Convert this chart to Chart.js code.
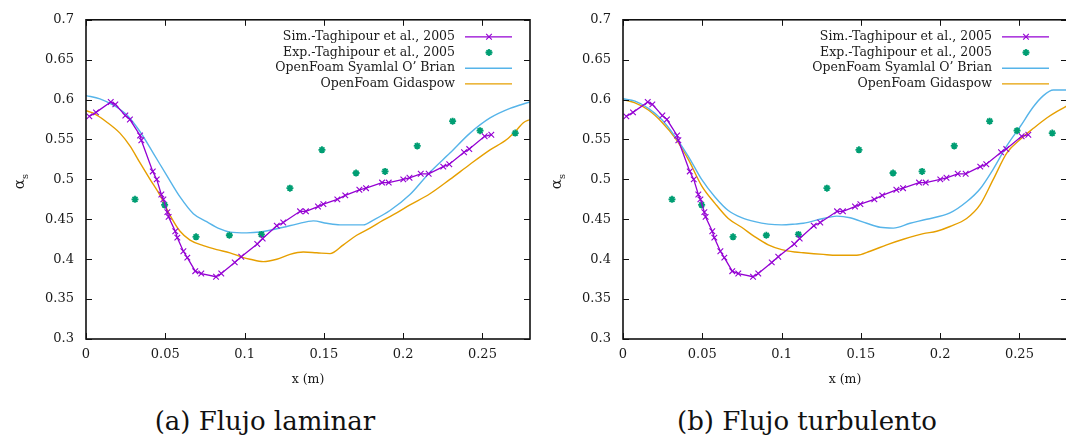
<!DOCTYPE html>
<html lang="es">
<head>
<meta charset="UTF-8">
<title>Fracción de sólidos</title>
<script src="https://cdn.jsdelivr.net/npm/chart.js"></script>
<style>
    html, body { margin: 0; padding: 0; background: #fff; overflow: hidden; }
    body { width: 1066px; height: 439px; position: relative; }
    canvas { position: absolute; top: 0; }
    #chartA { left: 0; }
    #chartB { left: 537px; }
    .caption { position: absolute; top: 406px; font-family: "DejaVu Serif", serif; font-size: 26px; color: #111; transform: translateX(-50%); white-space: nowrap; }
</style>
</head>
<body>
<canvas id="chartA" width="540" height="395"></canvas>
<canvas id="chartB" width="540" height="395"></canvas>
<div class="caption" style="left:265px">(a) Flujo laminar</div>
<div class="caption" style="left:807px">(b) Flujo turbulento</div>

<script>
// axis ticks
const xTicks = [0, 0.05, 0.1, 0.15, 0.2, 0.25];
const xTickLabels = ['0', '0.05', '0.1', '0.15', '0.2', '0.25'];
const yTicks = [0.3, 0.35, 0.4, 0.45, 0.5, 0.55, 0.6, 0.65, 0.7];
const yTickLabels = ['0.3', '0.35', '0.4', '0.45', '0.5', '0.55', '0.6', '0.65', '0.7'];

const seriesNames = ['Sim.-Taghipour et al., 2005', 'Exp.-Taghipour et al., 2005', 'OpenFoam Syamlal O\u2019 Brian', 'OpenFoam Gidaspow'];

// reference data (same in both panels)
const simTaghipour = [[0.0021,0.579],[0.0063,0.584],[0.0156,0.597],[0.0185,0.594],[0.0248,0.580],[0.0277,0.575],
    [0.0341,0.555],[0.0349,0.549],[0.0421,0.510],[0.0446,0.500],[0.0475,0.481],[0.0488,0.475],[0.0513,0.459],
    [0.0521,0.453],[0.0563,0.435],[0.0576,0.427],[0.0614,0.410],[0.0639,0.402],[0.0689,0.385],[0.0727,0.382],
    [0.0820,0.378],[0.0853,0.382],[0.0938,0.396],[0.0979,0.403],[0.1080,0.419],[0.1114,0.426],[0.1203,0.442],
    [0.1244,0.446],[0.1350,0.460],[0.1387,0.460],[0.1463,0.466],[0.1497,0.469],[0.1585,0.475],[0.1635,0.480],
    [0.1724,0.487],[0.1766,0.489],[0.1867,0.496],[0.1909,0.496],[0.2001,0.500],[0.2040,0.502],[0.2111,0.507],
    [0.2161,0.507],[0.2253,0.516],[0.2291,0.519],[0.2384,0.534],[0.2417,0.538],[0.2514,0.554],[0.2556,0.556]];
const expTaghipour = [[0.0309,0.475],[0.0496,0.468],[0.0694,0.428],[0.0904,0.430],[0.1106,0.431],[0.1286,0.489],
    [0.1488,0.537],[0.1703,0.508],[0.1886,0.510],[0.2089,0.542],[0.2312,0.573],[0.2485,0.561],[0.2707,0.558]];

// (a) laminar
const syamlalLam = [[0,0.605],[0.0088,0.601],[0.0172,0.593],[0.0257,0.581],[0.034,0.560],[0.0424,0.533],[0.0509,0.505],
    [0.0593,0.478],[0.0677,0.457],[0.0761,0.447],[0.0845,0.438],[0.0908,0.434],[0.1013,0.433],[0.1097,0.434],
    [0.1244,0.440],[0.1328,0.444],[0.1434,0.448],[0.1518,0.445],[0.1602,0.443],[0.1749,0.443],[0.1812,0.449],
    [0.1917,0.461],[0.2043,0.481],[0.2169,0.509],[0.2295,0.533],[0.2422,0.558],[0.2548,0.577],[0.2674,0.589],[0.28,0.597]];
const gidaspowLam = [[0,0.586],[0.0046,0.583],[0.013,0.572],[0.0214,0.558],[0.0277,0.542],[0.034,0.521],[0.0404,0.500],
    [0.0467,0.480],[0.053,0.455],[0.0593,0.435],[0.0656,0.424],[0.074,0.417],[0.0824,0.412],[0.0908,0.408],
    [0.0992,0.402],[0.1034,0.400],[0.1118,0.397],[0.1203,0.400],[0.1286,0.406],[0.137,0.409],[0.1455,0.408],
    [0.1539,0.407],[0.1623,0.418],[0.1707,0.430],[0.1791,0.439],[0.1875,0.449],[0.1959,0.458],[0.2043,0.468],
    [0.2169,0.482],[0.2295,0.500],[0.2422,0.519],[0.2548,0.537],[0.2653,0.550],[0.2716,0.562],[0.2758,0.571],[0.28,0.575]];

// (b) turbulento
const syamlalTurb = [[0,0.601],[0.0076,0.598],[0.016,0.589],[0.0244,0.575],[0.0328,0.554],[0.0412,0.529],[0.0496,0.500],
    [0.058,0.478],[0.0664,0.461],[0.0748,0.452],[0.0832,0.447],[0.0916,0.444],[0.1001,0.443],[0.1085,0.444],
    [0.1137,0.445],[0.1263,0.451],[0.1348,0.454],[0.1432,0.452],[0.1537,0.445],[0.1621,0.440],[0.1705,0.439],
    [0.1810,0.445],[0.1915,0.450],[0.2062,0.458],[0.2167,0.472],[0.2251,0.488],[0.2335,0.513],[0.242,0.542],
    [0.2504,0.566],[0.2588,0.591],[0.2651,0.605],[0.2714,0.612],[0.28,0.612]];
const gidaspowTurb = [[0,0.600],[0.0076,0.596],[0.016,0.587],[0.0244,0.572],[0.0328,0.552],[0.0412,0.525],[0.0496,0.492],
    [0.058,0.470],[0.0664,0.451],[0.0748,0.440],[0.0832,0.428],[0.0916,0.418],[0.1001,0.412],[0.1085,0.409],
    [0.1137,0.408],[0.1263,0.406],[0.1348,0.405],[0.1474,0.405],[0.1558,0.410],[0.1663,0.418],[0.1768,0.425],
    [0.1894,0.432],[0.1978,0.435],[0.2062,0.441],[0.2167,0.451],[0.2251,0.468],[0.2335,0.500],[0.242,0.533],
    [0.2504,0.550],[0.2588,0.564],[0.2672,0.577],[0.2735,0.585],[0.28,0.592]];

const FONT = '"DejaVu Serif", serif';
const TEXT = '#1a1a1a';

function pts(arr) {
    return arr.map(p => ({ x: p[0], y: p[1] }));
}

// frame, inward ticks, legend and axis titles drawn gnuplot-style
const gnuplotFrame = {
    id: 'gnuplotFrame',
    afterDatasetsDraw(chart) {
        const ctx = chart.ctx;
        const a = chart.chartArea;
        const xs = chart.scales.x, ys = chart.scales.y;
        ctx.save();
        ctx.strokeStyle = '#111';
        ctx.lineWidth = 1;
        ctx.beginPath();
        xTicks.forEach(v => {
            const px = Math.round(xs.getPixelForValue(v)) + 0.5;
            ctx.moveTo(px, a.bottom); ctx.lineTo(px, a.bottom - 6);
            ctx.moveTo(px, a.top); ctx.lineTo(px, a.top + 6);
        });
        yTicks.forEach(v => {
            const py = Math.round(ys.getPixelForValue(v)) + 0.5;
            ctx.moveTo(a.left, py); ctx.lineTo(a.left + 6, py);
            ctx.moveTo(a.right, py); ctx.lineTo(a.right - 6, py);
        });
        ctx.stroke();
        ctx.lineWidth = 1.6;
        ctx.strokeRect(a.left, a.top, a.right - a.left, a.bottom - a.top);

        // legend
        ctx.font = '12.5px ' + FONT;
        ctx.fillStyle = TEXT;
        ctx.textAlign = 'right';
        ctx.textBaseline = 'middle';
        chart.data.datasets.forEach((ds, i) => {
            const y = a.top + 17 + i * 15.7;
            ctx.fillStyle = TEXT;
            ctx.fillText(ds.label, a.right - 75, y);
            if (ds.showLine !== false) {
                ctx.strokeStyle = ds.borderColor;
                ctx.lineWidth = ds.borderWidth;
                ctx.beginPath();
                ctx.moveTo(a.right - 65, y); ctx.lineTo(a.right - 18, y);
                ctx.stroke();
            }
            if (ds.pointRadius > 0) {
                ctx.strokeStyle = ds.pointBorderColor || ds.borderColor;
                ctx.fillStyle = ds.pointBorderColor || ds.borderColor;
                ctx.lineWidth = ds.pointBorderWidth;
                Chart.helpers.drawPoint(ctx, {
                    pointStyle: ds.pointStyle, radius: ds.pointRadius,
                    borderWidth: ds.pointBorderWidth, rotation: 0
                }, a.right - 41, y);
            }
        });

        // axis titles
        ctx.fillStyle = TEXT;
        ctx.textAlign = 'center';
        ctx.font = '12.5px ' + FONT;
        ctx.fillText('x (m)', (a.left + a.right) / 2, 380);
        ctx.translate(20, 179);
        ctx.rotate(-Math.PI / 2);
        ctx.font = '15px ' + FONT;
        ctx.textAlign = 'right';
        ctx.fillText('\u03b1', 0, 0);
        ctx.font = '10px ' + FONT;
        ctx.textAlign = 'left';
        ctx.fillText('s', 0, 5);
        ctx.restore();
    }
};

function makeChart(id, syamlal, gidaspow) {
    return new Chart(document.getElementById(id), {
        type: 'line',
        data: {
            datasets: [
                {
                    label: seriesNames[0], data: pts(simTaghipour),
                    borderColor: '#9400d3', backgroundColor: '#9400d3', borderWidth: 1.3,
                    pointStyle: 'crossRot', pointRadius: 4, pointBorderWidth: 1.1,
                    pointBorderColor: '#9400d3', tension: 0
                },
                {
                    label: seriesNames[1], data: pts(expTaghipour), showLine: false,
                    borderColor: '#009e73', backgroundColor: '#009e73', borderWidth: 0,
                    pointStyle: 'star', pointRadius: 3.5, pointBorderWidth: 1.8,
                    pointBorderColor: '#009e73'
                },
                {
                    label: seriesNames[2], data: pts(syamlal),
                    borderColor: '#56b4e9', borderWidth: 1.4, pointRadius: 0,
                    cubicInterpolationMode: 'monotone'
                },
                {
                    label: seriesNames[3], data: pts(gidaspow),
                    borderColor: '#e69f00', borderWidth: 1.4, pointRadius: 0,
                    cubicInterpolationMode: 'monotone'
                }
            ]
        },
        options: {
            responsive: false,
            animation: false,
            events: [],
            layout: { padding: { top: 15, right: 10, left: 0, bottom: 0 } },
            plugins: { legend: { display: false }, tooltip: { enabled: false } },
            scales: {
                x: {
                    type: 'linear', min: 0, max: 0.28,
                    afterBuildTicks: s => { s.ticks = xTicks.map(v => ({ value: v })); },
                    afterFit: s => { s.height = 56; },
                    grid: { display: false, drawTicks: false },
                    border: { display: false },
                    ticks: {
                        padding: 8, color: TEXT, font: { family: FONT, size: 13 },
                        maxRotation: 0, autoSkip: false,
                        callback: (v, i) => xTickLabels[i]
                    }
                },
                y: {
                    type: 'linear', min: 0.3, max: 0.7,
                    afterBuildTicks: s => { s.ticks = yTicks.map(v => ({ value: v })); },
                    afterFit: s => { s.width = 86; },
                    grid: { display: false, drawTicks: false },
                    border: { display: false },
                    ticks: {
                        padding: 12, color: TEXT, font: { family: FONT, size: 13 },
                        autoSkip: false,
                        callback: (v, i) => yTickLabels[i]
                    }
                }
            }
        },
        plugins: [gnuplotFrame]
    });
}

makeChart('chartA', syamlalLam, gidaspowLam);
makeChart('chartB', syamlalTurb, gidaspowTurb);
</script>
</body>
</html>
